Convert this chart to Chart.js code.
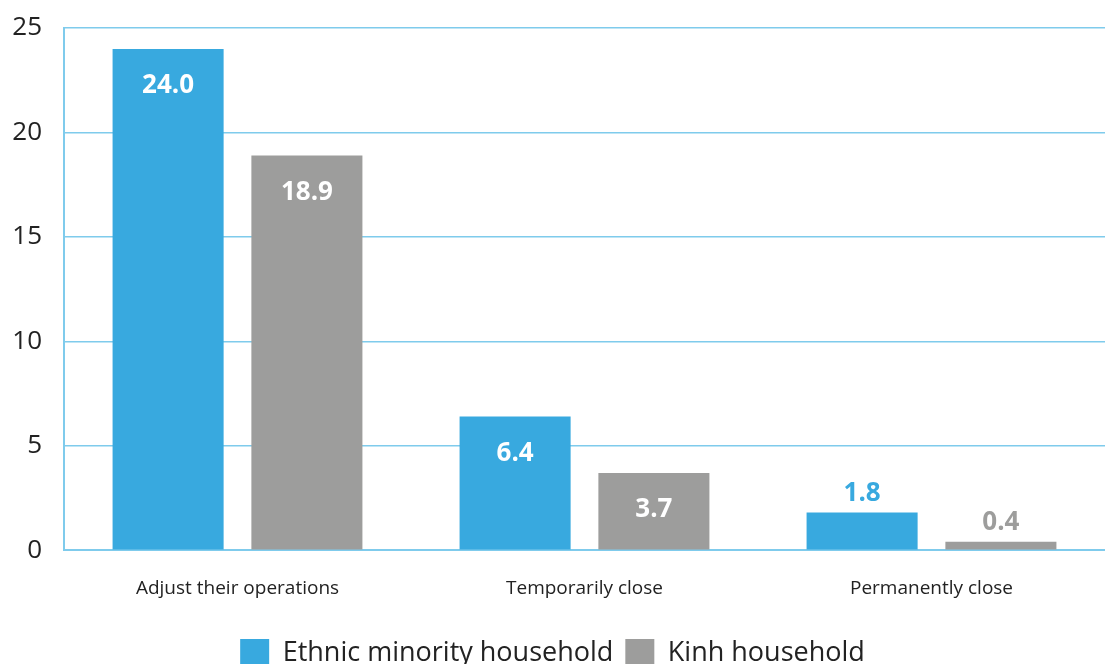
<!DOCTYPE html>
<html lang="en">
  <head>
    <meta charset="UTF-8" />
    <script src="https://cdn.jsdelivr.net/npm/chart.js"></script>
    <title>Household business response</title>
    <style>
      html, body { margin: 0; padding: 0; background: #fff; overflow: hidden; }
      #wrap { width: 1105px; height: 678px; position: relative; }
    </style>
  </head>
  <body>
    <div id="wrap">
      <canvas id="chart"></canvas>
    </div>
  </body>
</html>
<script>
  const categories = ["Adjust their operations", "Temporarily close", "Permanently close"];
  const ethnicValues = [24.0, 6.4, 1.8];
  const kinhValues = [18.9, 3.7, 0.4];
  const seriesNames = ["Ethnic minority household", "Kinh household"];
  const yTicks = [0, 5, 10, 15, 20, 25];

  const BLUE = "#38a9df";
  const GRAY = "#9d9d9c";
  const GRID = "#7fcbec";
  const FONT = "'Open Sans', 'Noto Sans', sans-serif";

  // draws the value labels: white inside tall bars, coloured above short ones
  const valueLabels = {
    id: "valueLabels",
    afterDatasetsDraw(chart) {
      const ctx = chart.ctx;
      ctx.save();
      ctx.font = "bold 26px " + FONT;
      ctx.textAlign = "center";
      ctx.textBaseline = "middle";
      chart.data.datasets.forEach((ds, i) => {
        chart.getDatasetMeta(i).data.forEach((bar, j) => {
          const v = ds.data[j];
          const h = bar.base - bar.y;
          if (h > 60) {
            ctx.fillStyle = "#ffffff";
            ctx.fillText(v.toFixed(1), bar.x, bar.y + 37);
          } else {
            ctx.fillStyle = ds.backgroundColor;
            ctx.fillText(v.toFixed(1), bar.x, bar.y - 19);
          }
        });
      });
      ctx.restore();
    },
  };

  new Chart(document.getElementById("chart"), {
    type: "bar",
    data: {
      labels: categories,
      datasets: [
        { label: seriesNames[0], data: ethnicValues, backgroundColor: BLUE },
        { label: seriesNames[1], data: kinhValues, backgroundColor: GRAY },
      ],
    },
    options: {
      responsive: true,
      maintainAspectRatio: false,
      animation: false,
      categoryPercentage: 0.8,
      barPercentage: 0.8,
      layout: { padding: { top: 28, right: 0, left: 0, bottom: 0 } },
      scales: {
        x: {
          grid: { display: false, drawTicks: false },
          border: { color: GRID, width: 2 },
          ticks: { color: "#222", font: { family: FONT, size: 19 }, padding: 27 },
        },
        y: {
          min: 0,
          max: 25,
          afterBuildTicks: (axis) => { axis.ticks = yTicks.map((v) => ({ value: v })); },
          afterFit: (axis) => { axis.width = 64; axis.paddingTop = 0; },
          grid: { color: GRID, lineWidth: 1.5, drawTicks: false },
          border: { color: GRID, width: 2 },
          ticks: { color: "#222", font: { family: FONT, size: 26 }, padding: 22 },
        },
      },
      plugins: {
        legend: {
          position: "bottom",
          labels: {
            color: "#222",
            font: { family: FONT, size: 27 },
            boxWidth: 29,
            boxHeight: 29,
            padding: 12,
          },
        },
        tooltip: { enabled: false },
      },
    },
    plugins: [valueLabels],
  });
</script>
